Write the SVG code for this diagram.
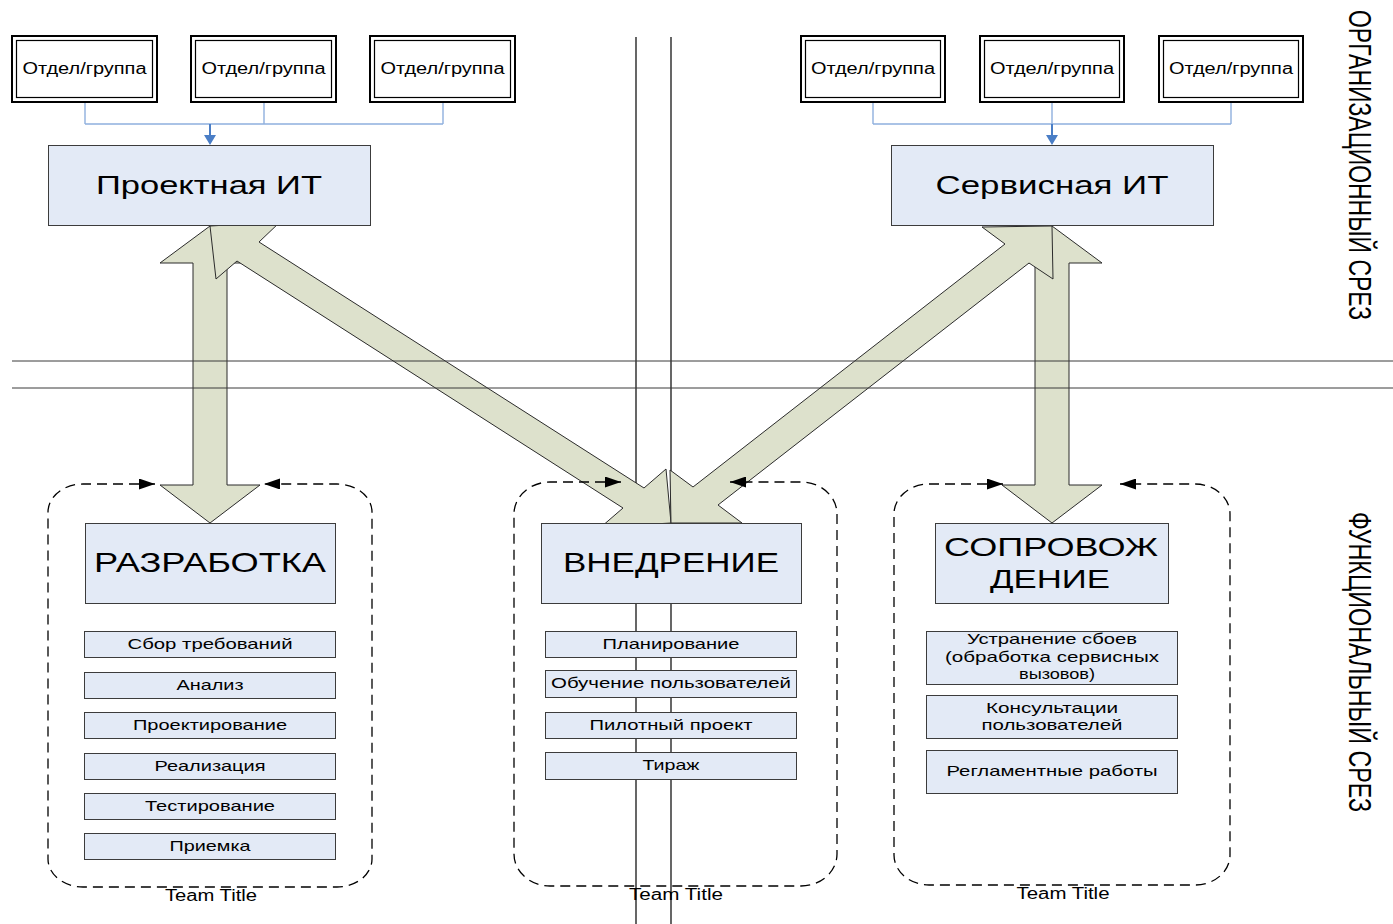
<svg xmlns="http://www.w3.org/2000/svg" width="1393" height="924" viewBox="0 0 1393 924">
<style>
text{font-family:"Liberation Sans",Arial,sans-serif;fill:#000;text-anchor:middle}
.dept-o{fill:#fff;stroke:#000;stroke-width:2}
.dept-i{fill:none;stroke:#000;stroke-width:1.2}
.box{fill:#e3eaf6;stroke:#3c3c3c;stroke-width:1}
.sub{fill:#e3eaf6;stroke:#3c3c3c;stroke-width:1}
.big{fill:#dde1cc;stroke:#2b2b2b;stroke-width:1;stroke-linejoin:miter}
.grid{stroke:#3a3a3a;stroke-width:1;fill:none}
.vline{stroke:#000;stroke-width:1.2;fill:none}
.blue{stroke:#8fb0de;stroke-width:1.4;fill:none}
.team{fill:none;stroke:#000;stroke-width:1.3;stroke-dasharray:10 6;marker-start:url(#dh);marker-end:url(#dh)}
.t16{font-size:16px}
.t15{font-size:15px}
.t25{font-size:26px}
.t28{font-size:28px}
</style>
<defs>
<marker id="dh" markerUnits="userSpaceOnUse" markerWidth="16" markerHeight="11" viewBox="0 0 16 11" refX="16" refY="5.5" orient="auto-start-reverse">
<path d="M0,0 L16,5.5 L0,11 z" fill="#000"/>
</marker>
</defs>

<g id="separators-vertical">
<line class="vline" x1="636" y1="37" x2="636" y2="924"/>
<line class="vline" x1="671" y1="37" x2="671" y2="924"/>
</g>

<g id="connectors">
<g id="org-left">
<path class="blue" d="M85,102 V124 M264,102 V124 M443,102 V124 M85,124 H443"/>
<line x1="210" y1="124" x2="210" y2="136" stroke="#4a7ec6" stroke-width="2"/>
<path d="M204,135 L216,135 L210,145 z" fill="#4a7ec6"/>
</g>
<g id="org-right">
<path class="blue" d="M873,102 V124 M1052,102 V124 M1231,102 V124 M873,124 H1231"/>
<line x1="1052" y1="124" x2="1052" y2="136" stroke="#4a7ec6" stroke-width="2"/>
<path d="M1046,135 L1058,135 L1052,145 z" fill="#4a7ec6"/>
</g>
<polygon id="arrow-v-left" class="big" points="210,226 260,263 227,263 227,485 260,485 210,523 160,485 193,485 193,263 160,263"/>
<polygon id="arrow-v-right" class="big" points="1052,226 1102,263 1069,263 1069,485 1102,485 1052,523 1002,485 1035,485 1035,263 1002,263"/>
<polygon id="arrow-d-left" class="big" points="210,226 280,222 259,242 644,488 666,469 671,523 601,527 623,508 237,261 216,279"/>
<polygon id="arrow-d-right" class="big" points="671,523 670,470 693,487 1005,244 982,227 1052,226 1053,279 1029,263 718,505 742,523"/>
</g>

<g id="separators-horizontal">
<line class="grid" x1="12" y1="361" x2="1393" y2="361"/>
<line class="grid" x1="12" y1="388" x2="1393" y2="388"/>
</g>

<g id="dept-l1"><rect class="dept-o" x="12" y="36" width="145" height="66"/><rect class="dept-i" x="16.5" y="40.5" width="136" height="57"/><text class="t16" x="84.5" y="74" textLength="124" lengthAdjust="spacingAndGlyphs">Отдел/группа</text></g>
<g id="dept-l2"><rect class="dept-o" x="191" y="36" width="145" height="66"/><rect class="dept-i" x="195.5" y="40.5" width="136" height="57"/><text class="t16" x="263.5" y="74" textLength="124" lengthAdjust="spacingAndGlyphs">Отдел/группа</text></g>
<g id="dept-l3"><rect class="dept-o" x="370" y="36" width="145" height="66"/><rect class="dept-i" x="374.5" y="40.5" width="136" height="57"/><text class="t16" x="442.5" y="74" textLength="124" lengthAdjust="spacingAndGlyphs">Отдел/группа</text></g>
<g id="dept-r1"><rect class="dept-o" x="801" y="36" width="144" height="66"/><rect class="dept-i" x="805.5" y="40.5" width="135" height="57"/><text class="t16" x="873" y="74" textLength="124" lengthAdjust="spacingAndGlyphs">Отдел/группа</text></g>
<g id="dept-r2"><rect class="dept-o" x="980" y="36" width="144" height="66"/><rect class="dept-i" x="984.5" y="40.5" width="135" height="57"/><text class="t16" x="1052" y="74" textLength="124" lengthAdjust="spacingAndGlyphs">Отдел/группа</text></g>
<g id="dept-r3"><rect class="dept-o" x="1159" y="36" width="144" height="66"/><rect class="dept-i" x="1163.5" y="40.5" width="135" height="57"/><text class="t16" x="1231" y="74" textLength="124" lengthAdjust="spacingAndGlyphs">Отдел/группа</text></g>

<g id="proj-it"><rect class="box" x="48.5" y="145.5" width="322" height="80"/><text class="t25" x="209" y="194" textLength="226" lengthAdjust="spacingAndGlyphs">Проектная ИТ</text></g>
<g id="serv-it"><rect class="box" x="891.5" y="145.5" width="322" height="80"/><text class="t25" x="1052" y="194" textLength="233" lengthAdjust="spacingAndGlyphs">Сервисная ИТ</text></g>

<g id="team-dev">
<path class="team" d="M155,484 L83,484 A35,28 0 0 0 48,512 L48,859 A35,28 0 0 0 83,887 L337,887 A35,28 0 0 0 372,859 L372,512 A35,28 0 0 0 337,484 L264,484"/>
<text class="t16" x="211" y="901" textLength="92" lengthAdjust="spacingAndGlyphs">Team Title</text>
</g>
<g id="team-impl">
<path class="team" d="M621,482 L550,482 A36,32 0 0 0 514,514 L514,854 A36,32 0 0 0 550,886 L801,886 A36,32 0 0 0 837,854 L837,514 A36,32 0 0 0 801,482 L730,482"/>
<text class="t16" x="676" y="900" textLength="94" lengthAdjust="spacingAndGlyphs">Team Title</text>
</g>
<g id="team-supp">
<path class="team" d="M1003,484 L929,484 A35,30 0 0 0 894,514 L894,855 A35,30 0 0 0 929,885 L1195,885 A35,30 0 0 0 1230,855 L1230,514 A35,30 0 0 0 1195,484 L1120,484"/>
<text class="t16" x="1063" y="899" textLength="93" lengthAdjust="spacingAndGlyphs">Team Title</text>
</g>

<g id="dev"><rect class="box" x="85.5" y="523.5" width="250" height="80"/><text class="t28" x="210" y="572" textLength="232" lengthAdjust="spacingAndGlyphs">РАЗРАБОТКА</text></g>
<g id="impl"><rect class="box" x="541.5" y="523.5" width="260" height="80"/><text class="t28" x="671" y="572" textLength="216" lengthAdjust="spacingAndGlyphs">ВНЕДРЕНИЕ</text></g>
<g id="supp"><rect class="box" x="935.5" y="523.5" width="233" height="80"/><text class="t25" x="1051" y="556" textLength="214" lengthAdjust="spacingAndGlyphs">СОПРОВОЖ</text><text class="t25" x="1050" y="588" textLength="120" lengthAdjust="spacingAndGlyphs">ДЕНИЕ</text></g>

<g id="dev-1"><rect class="sub" x="84.5" y="631.5" width="251" height="26"/><text class="t15" x="210" y="649" textLength="165" lengthAdjust="spacingAndGlyphs">Сбор требований</text></g>
<g id="dev-2"><rect class="sub" x="84.5" y="672.5" width="251" height="26"/><text class="t15" x="210" y="690" textLength="67" lengthAdjust="spacingAndGlyphs">Анализ</text></g>
<g id="dev-3"><rect class="sub" x="84.5" y="712.5" width="251" height="26"/><text class="t15" x="210" y="730" textLength="154" lengthAdjust="spacingAndGlyphs">Проектирование</text></g>
<g id="dev-4"><rect class="sub" x="84.5" y="753.5" width="251" height="26"/><text class="t15" x="210" y="771" textLength="111" lengthAdjust="spacingAndGlyphs">Реализация</text></g>
<g id="dev-5"><rect class="sub" x="84.5" y="793.5" width="251" height="26"/><text class="t15" x="210" y="811" textLength="130" lengthAdjust="spacingAndGlyphs">Тестирование</text></g>
<g id="dev-6"><rect class="sub" x="84.5" y="833.5" width="251" height="26"/><text class="t15" x="210" y="851" textLength="81" lengthAdjust="spacingAndGlyphs">Приемка</text></g>

<g id="impl-1"><rect class="sub" x="545.5" y="631.5" width="251" height="26"/><text class="t15" x="671" y="649" textLength="137" lengthAdjust="spacingAndGlyphs">Планирование</text></g>
<g id="impl-2"><rect class="sub" x="545.5" y="670.5" width="251" height="27"/><text class="t15" x="671" y="688" textLength="240" lengthAdjust="spacingAndGlyphs">Обучение пользователей</text></g>
<g id="impl-3"><rect class="sub" x="545.5" y="712.5" width="251" height="26"/><text class="t15" x="671" y="730" textLength="163" lengthAdjust="spacingAndGlyphs">Пилотный проект</text></g>
<g id="impl-4"><rect class="sub" x="545.5" y="752.5" width="251" height="27"/><text class="t15" x="671" y="770" textLength="57" lengthAdjust="spacingAndGlyphs">Тираж</text></g>

<g id="supp-1"><rect class="sub" x="926.5" y="631.5" width="251" height="53"/>
<text class="t15" x="1052" y="644" textLength="170" lengthAdjust="spacingAndGlyphs">Устранение сбоев</text>
<text class="t15" x="1052" y="662" textLength="214" lengthAdjust="spacingAndGlyphs">(обработка сервисных</text>
<text class="t15" x="1057" y="679" textLength="76" lengthAdjust="spacingAndGlyphs">вызовов)</text></g>
<g id="supp-2"><rect class="sub" x="926.5" y="695.5" width="251" height="43"/>
<text class="t15" x="1052" y="713" textLength="132" lengthAdjust="spacingAndGlyphs">Консультации</text>
<text class="t15" x="1052" y="730" textLength="141" lengthAdjust="spacingAndGlyphs">пользователей</text></g>
<g id="supp-3"><rect class="sub" x="926.5" y="750.5" width="251" height="43"/>
<text class="t15" x="1052" y="776" textLength="211" lengthAdjust="spacingAndGlyphs">Регламентные работы</text></g>

<g id="label-org"><text transform="translate(1349,165) rotate(90) scale(1,1.35)" style="font-size:23px" x="0" y="0" textLength="310" lengthAdjust="spacingAndGlyphs">ОРГАНИЗАЦИОННЫЙ СРЕЗ</text></g>
<g id="label-func"><text transform="translate(1349,662) rotate(90) scale(1,1.35)" style="font-size:23px" x="0" y="0" textLength="300" lengthAdjust="spacingAndGlyphs">ФУНКЦИОНАЛЬНЫЙ СРЕЗ</text></g>
</svg>
